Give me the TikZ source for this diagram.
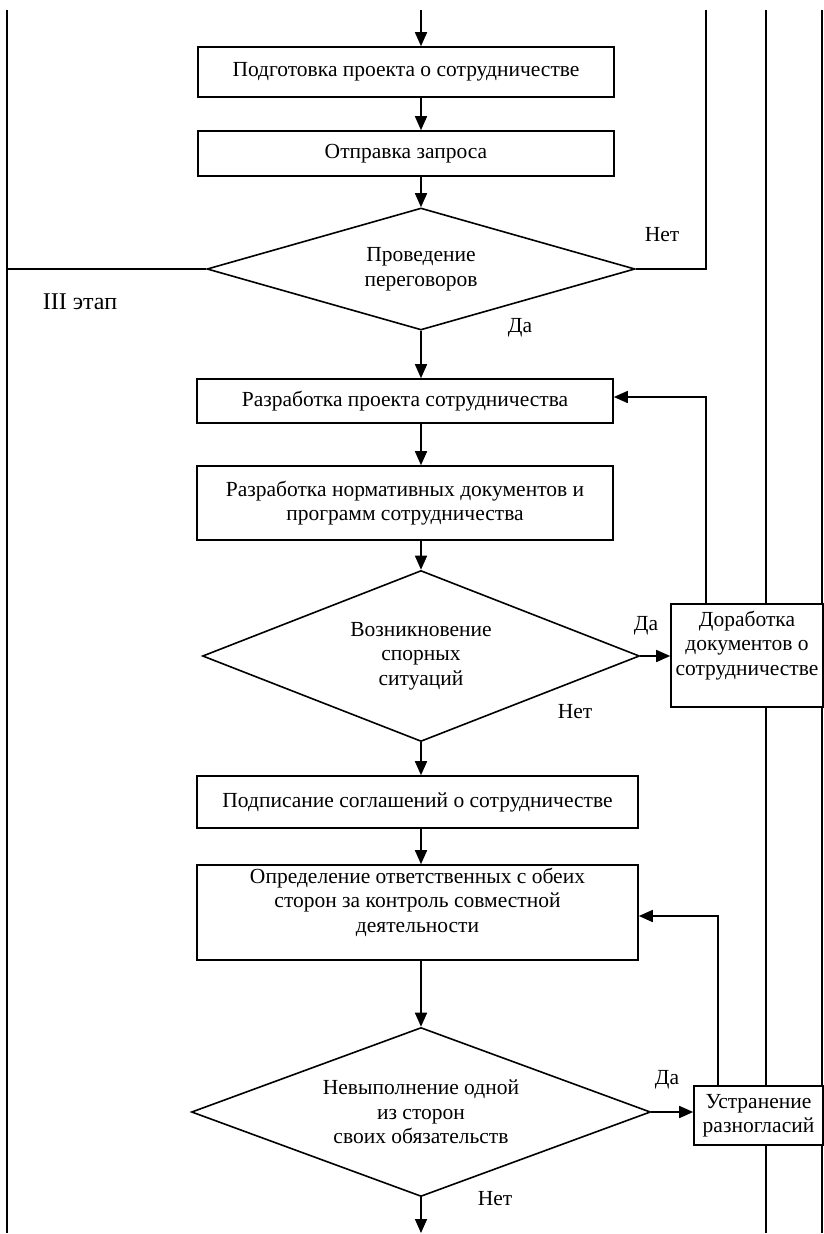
\documentclass[tikz,border=0pt]{standalone}
\usepackage{fontspec}
\setmainfont{Liberation Serif}
\usepackage{tikz}
\usetikzlibrary{arrows, arrows.meta}
\usetikzlibrary{positioning}
\usetikzlibrary{calc}
\usetikzlibrary{shapes.geometric}

\begin{document}
\begin{tikzpicture}[x=1pt, y=-1pt, line width=1.6pt,
	every node/.style={font=\fontsize{21.5}{24.5}\selectfont},
	blk/.style={rectangle, draw=black, fill=white, inner sep=0pt, align=center},
	cond/.style={diamond, aspect=2.5, draw=black, fill=white, inner sep=0pt, align=center},
	arr/.style={-{Triangle[length=14pt,width=12pt]}},
	lbl/.style={inner sep=0pt}]
	\useasboundingbox (0,0) rectangle (824,1234);
	\newcommand\topY{10}
	\newcommand\botY{1233}
	% lanes
	\draw (7,\topY) -- (7,\botY);
	\draw (766,\topY) -- (766,\botY);
	\draw (822,\topY) -- (822,\botY);
	\coordinate (ax) at (421,0);
	\coordinate (start) at (421,\topY);
	\coordinate (finish) at (421,\botY);
	\coordinate (netTop) at (706,\topY);
	\coordinate (leftEnd) at (7,269);
	\coordinate (fbA) at (706,397);
	\coordinate (fbB) at (718,916);
	% main column
	\node[blk, minimum width=416pt, minimum height=50pt] (prep) at (406,72) {Подготовка проекта о сотрудничестве};
	\node[blk, minimum width=416pt, minimum height=45pt] (req) at (406,153.5) {Отправка запроса};
	\node[cond, minimum width=428pt, minimum height=122pt] (talks) at (421,269) {Проведение\\переговоров};
	\node[blk, minimum width=416pt, minimum height=44pt] (proj) at (405,401) {Разработка проекта сотрудничества};
	\node[blk, minimum width=416pt, minimum height=74pt] (docs) at (405,503) {Разработка нормативных документов и\\программ сотрудничества};
	\node[cond, minimum width=437pt, minimum height=171pt] (dispute) at (421,656) {Возникновение\\спорных\\ситуаций};
	\node[blk, minimum width=152pt, minimum height=103pt] (rework) at (747,655.5) {Доработка\\документов о\\сотрудничестве\\\mbox{}};
	\node[blk, minimum width=441pt, minimum height=52pt] (sign) at (417.5,802) {Подписание соглашений о сотрудничестве};
	\node[blk, minimum width=441pt, minimum height=95pt] (resp) at (417.5,912.5) {Определение ответственных с обеих\\сторон за контроль совместной\\деятельности\\\mbox{}};
	\node[cond, minimum width=459pt, minimum height=169pt] (fail) at (421,1112) {Невыполнение одной\\из сторон\\своих обязательств};
	\node[blk, minimum width=129pt, minimum height=59pt] (fix) at (758.5,1115.5) {Устранение\\разногласий};
	% labels
	\node[lbl, font=\fontsize{24}{28}\selectfont] (stage) at (80,302) {III этап};
	\node[lbl] (no1) at (662,235) {Нет};
	\node[lbl] (yes1) at (520,328) {Да};
	\node[lbl] (yes2) at (646,626) {Да};
	\node[lbl] (no2) at (575,712) {Нет};
	\node[lbl] (yes3) at (667,1080) {Да};
	\node[lbl] (no3) at (495,1199) {Нет};
	% connectors
	\draw[arr] (start) -- (prep.north -| ax);
	\draw[arr] (prep.south -| ax) -- (req.north -| ax);
	\draw[arr] (req.south -| ax) -- (talks.north);
	\draw (talks.east) -| (netTop);
	\draw (talks.west) -- (leftEnd);
	\draw[arr] (talks.south) -- (proj.north -| ax);
	\draw[arr] (proj.south -| ax) -- (docs.north -| ax);
	\draw[arr] (docs.south -| ax) -- (dispute.north);
	\draw[arr] (dispute.east) -- (dispute.east -| rework.west);
	\draw[arr] (rework.north -| fbA) |- (proj.east |- fbA);
	\draw[arr] (dispute.south) -- (sign.north -| ax);
	\draw[arr] (sign.south -| ax) -- (resp.north -| ax);
	\draw[arr] (resp.south -| ax) -- (fail.north);
	\draw[arr] (fail.east) -- (fail.east -| fix.west);
	\draw[arr] (fix.north -| fbB) |- (resp.east |- fbB);
	\draw[arr] (fail.south) -- (finish);
\end{tikzpicture}
\end{document}
